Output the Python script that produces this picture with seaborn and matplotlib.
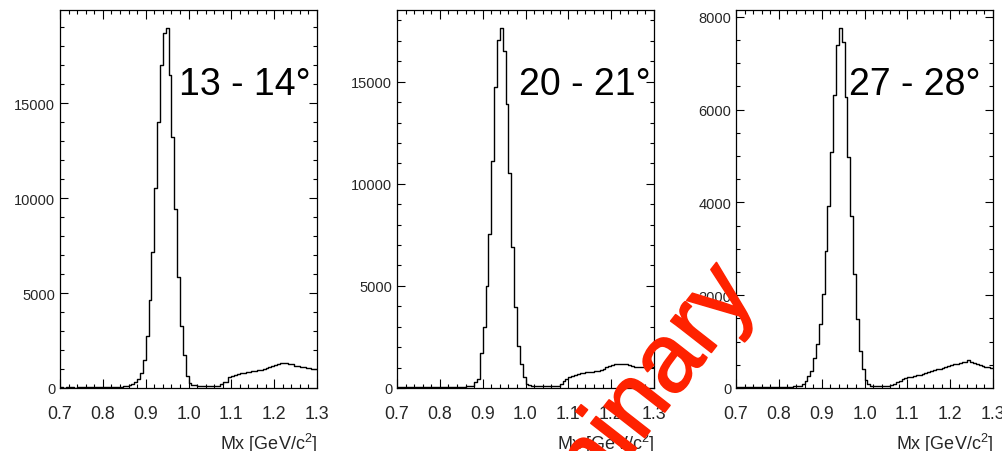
import numpy as np
import pandas as pd
import matplotlib
matplotlib.use("Agg")
import matplotlib.pyplot as plt
import matplotlib.patheffects as pe
from matplotlib.ticker import MultipleLocator, FormatStrFormatter
import seaborn as sns

# Missing-mass histograms, 90 bins from 0.7 to 1.3 GeV/c^2
mx_lo, mx_hi, n_bins = 0.7, 1.3, 90

counts_13_14 = [
    30, 25, 30, 35, 30, 25, 30, 30, 35, 30,
    30, 35, 30, 35, 40, 35, 40, 45, 40, 50,
    55, 60, 80, 120, 180, 220, 300, 470, 780, 1500,
    2760, 4620, 7150, 10550, 14040, 17020, 18730, 18970, 16470, 13200,
    9450, 5850, 3290, 1750, 650, 260, 170, 140, 120, 110,
    105, 110, 100, 110, 115, 120, 200, 320, 330, 600,
    650, 700, 760, 780, 800, 830, 850, 880, 900, 930,
    960, 1000, 1060, 1130, 1180, 1220, 1270, 1300, 1320, 1310,
    1290, 1250, 1180, 1150, 1120, 1100, 1080, 1050, 1020, 1010,
]

counts_20_21 = [
    40, 35, 40, 45, 40, 35, 40, 45, 40, 45,
    40, 45, 50, 45, 50, 45, 50, 55, 50, 55,
    60, 60, 65, 70, 80, 95, 115, 280, 440, 1700,
    2975, 5015, 7550, 11110, 14740, 17025, 17630, 16505, 13890, 10525,
    6900, 3955, 2075, 1175, 525, 200, 130, 110, 100, 95,
    90, 95, 100, 95, 100, 110, 120, 200, 330, 450,
    560, 600, 650, 690, 720, 740, 760, 780, 800, 820,
    850, 900, 950, 1020, 1080, 1130, 1160, 1175, 1175, 1175,
    1170, 1140, 1080, 1050, 1040, 1030, 1020, 1010, 1020, 1010,
]

counts_27_28 = [
    20, 20, 25, 20, 25, 20, 25, 25, 20, 25,
    25, 20, 25, 25, 30, 25, 30, 30, 25, 30,
    35, 35, 43, 86, 158, 266, 374, 655, 949, 1381,
    2028, 2962, 3933, 5085, 6307, 7385, 7760, 7458, 6272, 4977,
    3717, 2460, 1489, 805, 410, 173, 86, 50, 45, 40,
    45, 40, 45, 50, 60, 90, 120, 150, 190, 210,
    230, 245, 260, 270, 290, 310, 330, 350, 370, 385,
    400, 420, 440, 460, 480, 495, 510, 520, 540, 555,
    565, 600, 560, 530, 510, 490, 470, 460, 450, 440,
]

panel_labels = ["13 - 14\u00b0", "20 - 21\u00b0", "27 - 28\u00b0"]
panel_counts = [counts_13_14, counts_20_21, counts_27_28]
y_major = [5000, 5000, 2000]
y_minor = [1000, 1000, 500]
label_x = [0.463, 0.475, 0.440]

sns.set_style("ticks")
plt.rcParams["font.family"] = ["Liberation Sans", "DejaVu Sans"]
plt.rcParams["mathtext.default"] = "regular"

fig = plt.figure(figsize=(10.03, 4.52), dpi=100)
W, H = 1003.0, 452.0
lefts = [60, 397, 736]
ax_w, ax_top, ax_bot = 257, 11, 389

edges = np.linspace(mx_lo, mx_hi, n_bins + 1)
centers = 0.5 * (edges[:-1] + edges[1:])

for i, (left, counts) in enumerate(zip(lefts, panel_counts)):
    ax = fig.add_axes([left / W, 1 - ax_bot / H, ax_w / W, (ax_bot - ax_top) / H])
    df = pd.DataFrame({"mx": centers, "counts": np.asarray(counts, dtype=float)})
    sns.histplot(data=df, x="mx", weights="counts", bins=n_bins,
                 binrange=(mx_lo, mx_hi), element="step",
                 fill=False, color="black", linewidth=1.0, ax=ax)
    ax.set_xlim(mx_lo, mx_hi)
    ax.set_ylim(0, 1.05 * df["counts"].max())
    ax.set_ylabel("")
    ax.xaxis.set_major_locator(MultipleLocator(0.1))
    ax.xaxis.set_minor_locator(MultipleLocator(0.02))
    ax.xaxis.set_major_formatter(FormatStrFormatter("%.1f"))
    ax.yaxis.set_major_locator(MultipleLocator(y_major[i]))
    ax.yaxis.set_minor_locator(MultipleLocator(y_minor[i]))
    ax.tick_params(axis="both", which="both", direction="in", top=True, right=True,
                   width=0.8, color="black")
    ax.tick_params(axis="x", which="major", length=6.5, labelsize=12.8, pad=12.5)
    ax.tick_params(axis="x", which="minor", length=3.2)
    ax.tick_params(axis="y", which="major", length=5.8, labelsize=10.5, pad=3.5)
    ax.tick_params(axis="y", which="minor", length=2.9)
    for sp in ax.spines.values():
        sp.set_color("black")
        sp.set_linewidth(0.9)
    ax.set_xlabel("Mx [GeV/c$^2$]", fontsize=13, ha="right")
    ax.xaxis.set_label_coords(1.0, -0.114)
    ax.text(label_x[i], 0.804, panel_labels[i], transform=ax.transAxes,
            fontsize=27, ha="left", va="center", color="black")

wm_color = "#ff2200"
fig.text(757 / W, 1 - 295 / H, "Preliminary", fontsize=70, color=wm_color,
         rotation=52, rotation_mode="anchor", ha="right", va="baseline",
         path_effects=[pe.withStroke(linewidth=1.2, foreground=wm_color,
                                     capstyle="round", joinstyle="round")])

fig.savefig("out.png", dpi=100)
